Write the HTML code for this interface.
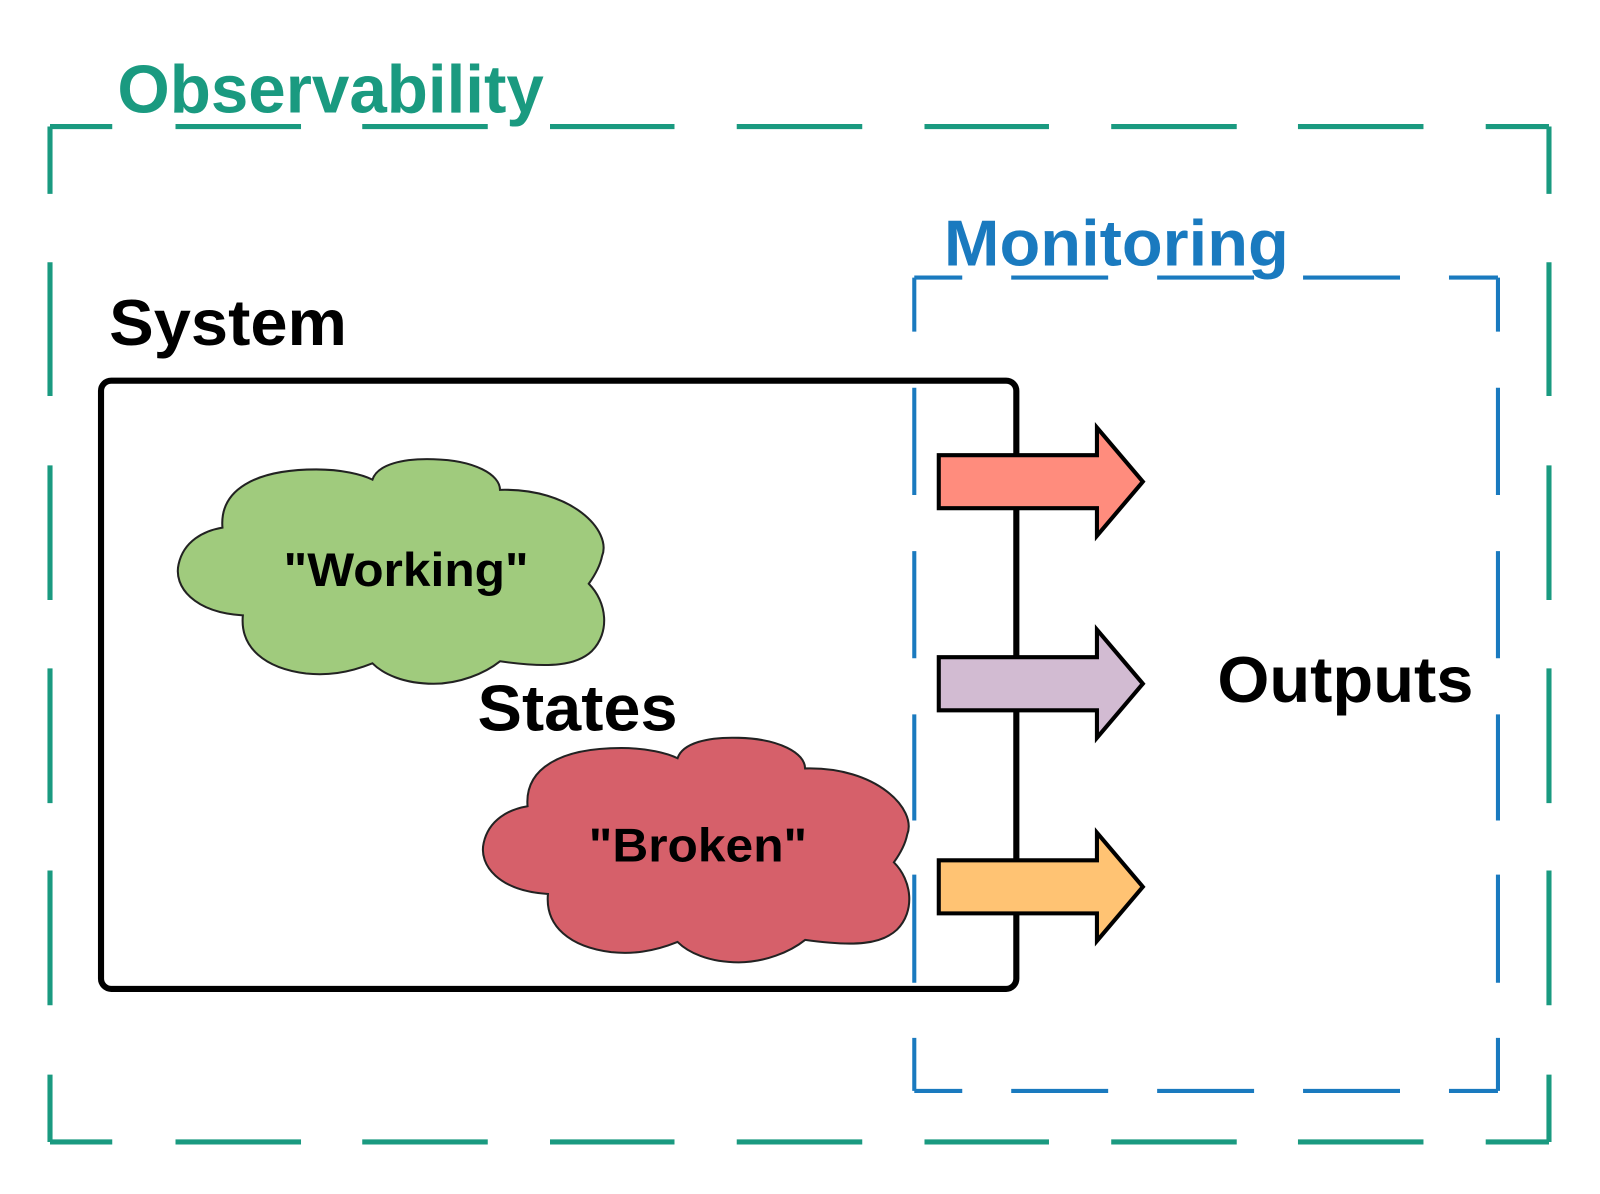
<!DOCTYPE html>
<html><head><style>html,body{margin:0;padding:0;background:#fff}svg{display:block}</style></head>
<body>
<svg width="1600" height="1194" viewBox="0 0 1568 1170" preserveAspectRatio="none" xmlns="http://www.w3.org/2000/svg" font-family="Liberation Sans, sans-serif" font-weight="bold">
<rect width="1568" height="1170" fill="#fff"/>
<g stroke="#1a9a80" stroke-width="5" fill="none">
<path d="M49 124H110M172 124H295M355 124H478M539 124H661M722 124H845M906 124H1028M1089 124H1212M1272 124H1395M1456 124H1518
M49 1119H110M172 1119H295M355 1119H478M539 1119H661M722 1119H845M906 1119H1028M1089 1119H1212M1272 1119H1395M1456 1119H1518
M49 124V190M49 257V388M49 456V588M49 655V787M49 853V985M49 1053V1119
M1518 124V190M1518 257V388M1518 456V588M1518 655V787M1518 853V985M1518 1053V1119"/>
</g>
<rect x="99" y="373" width="897" height="596" rx="10" fill="none" stroke="#000" stroke-width="6"/>
<g id="cw">
<path d="M238 603 C190 600 170 575 175 553 C180 530 200 520 218 517 C215 480 250 460 310 460 C335 460 355 465 365 470 C370 455 395 449 425 450 C465 451 490 465 490 480 C560 478 600 520 590 545 C588 555 582 565 577 572 C595 590 598 620 580 638 C565 652 540 655 490 648 C475 660 450 670 425 670 C395 670 375 660 365 650 C340 660 320 662 300 660 C260 655 235 635 238 603 Z" fill="#a0cb7d" stroke="#222" stroke-width="2"/>
</g>
<path transform="translate(299,273)" d="M238 603 C190 600 170 575 175 553 C180 530 200 520 218 517 C215 480 250 460 310 460 C335 460 355 465 365 470 C370 455 395 449 425 450 C465 451 490 465 490 480 C560 478 600 520 590 545 C588 555 582 565 577 572 C595 590 598 620 580 638 C565 652 540 655 490 648 C475 660 450 670 425 670 C395 670 375 660 365 650 C340 660 320 662 300 660 C260 655 235 635 238 603 Z" fill="#d6606a" stroke="#222" stroke-width="2"/>
<g stroke="#1a7abf" stroke-width="4" fill="none">
<path d="M896 272H943M991 272H1086M1134 272H1229M1277 272H1372M1420 272H1468
M896 1069H943M991 1069H1086M1134 1069H1229M1277 1069H1372M1420 1069H1468
M896 272V325M896 380V485M896 540V645M896 700V804M896 857V963M896 1017V1069
M1468 272V325M1468 380V485M1468 540V645M1468 700V804M1468 857V963M1468 1017V1069"/>
</g>
<g stroke="#000" stroke-width="4" stroke-linejoin="miter">
<path d="M920 446H1075V419L1120 472L1075 525V498H920Z" fill="#ff8c7d"/>
<path d="M920 644H1075V617L1120 670L1075 723V696H920Z" fill="#d2bbd2"/>
<path d="M920 843H1075V816L1120 869L1075 922V895H920Z" fill="#ffc373"/>
</g>
<text x="115" y="110" font-size="66" fill="#1a9a80" textLength="418" lengthAdjust="spacingAndGlyphs">Observability</text>
<text x="925" y="260" font-size="64" fill="#1a7abf" textLength="338" lengthAdjust="spacingAndGlyphs">Monitoring</text>
<text x="107" y="338" font-size="64" fill="#000" textLength="233" lengthAdjust="spacingAndGlyphs">System</text>
<text x="468" y="716" font-size="64" fill="#000" textLength="196" lengthAdjust="spacingAndGlyphs">States</text>
<text x="1193" y="688" font-size="64" fill="#000" textLength="251" lengthAdjust="spacingAndGlyphs">Outputs</text>
<text x="278" y="574" font-size="46" fill="#000" textLength="240" lengthAdjust="spacingAndGlyphs">"Working"</text>
<text x="577" y="844" font-size="46" fill="#000" textLength="214" lengthAdjust="spacingAndGlyphs">"Broken"</text>
</svg>
</body></html>
